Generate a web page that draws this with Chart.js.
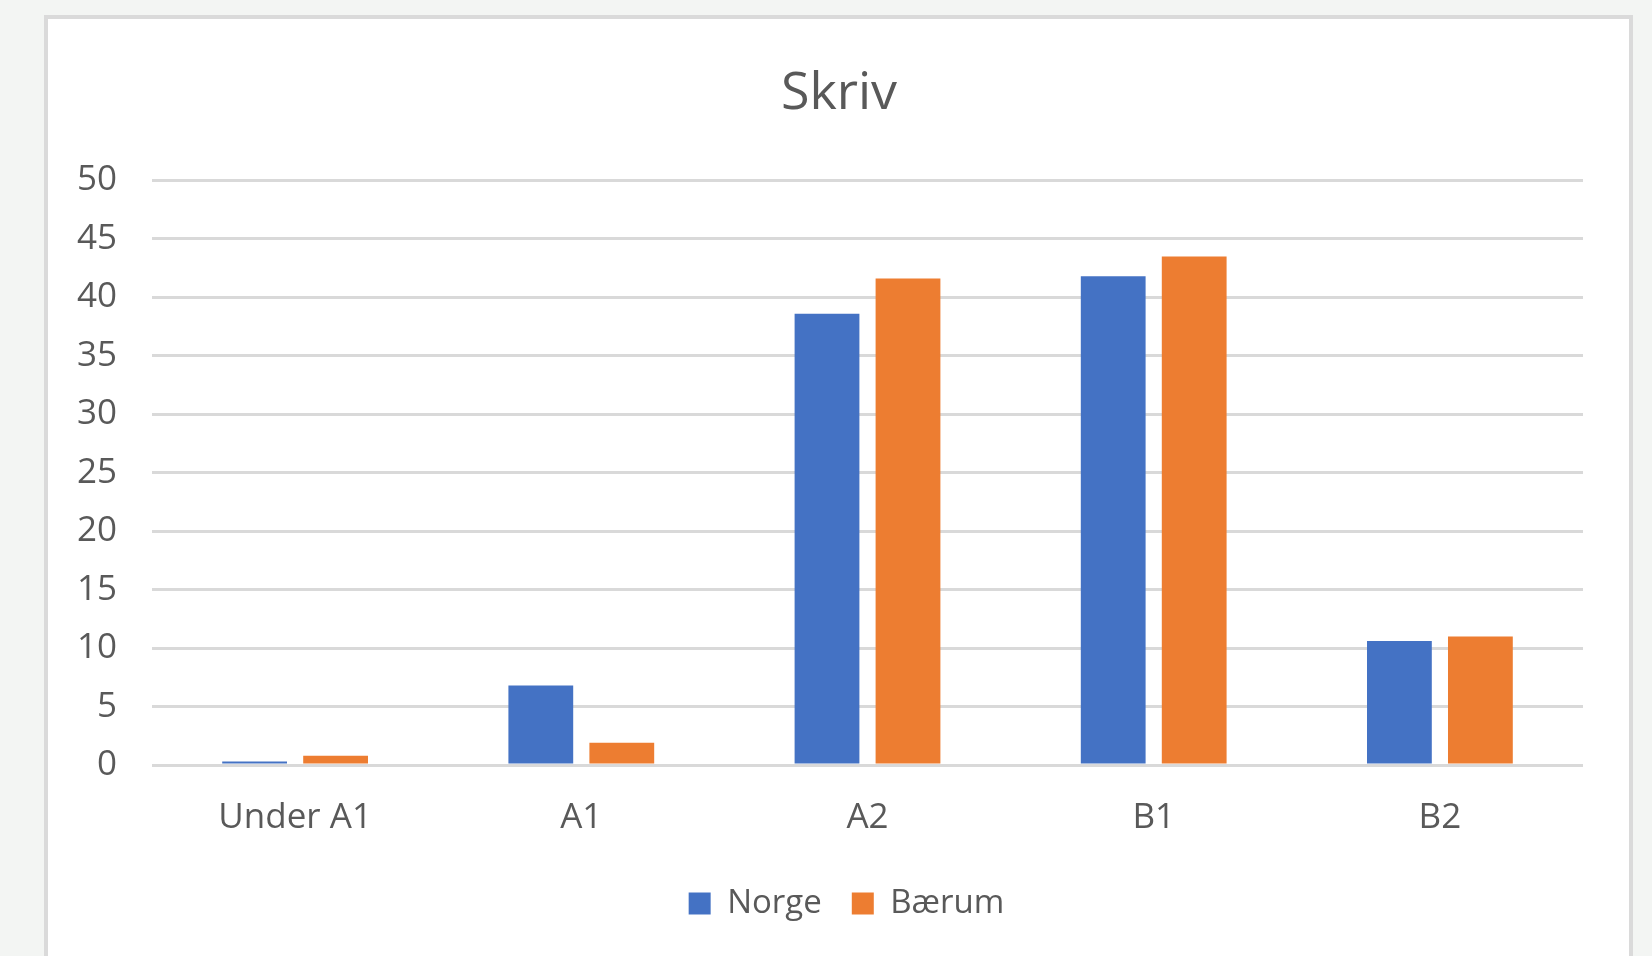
<html>
<head>
<script src="https://cdn.jsdelivr.net/npm/chart.js"></script>
<style>
  html, body { margin: 0; padding: 0; background: #f3f5f3; overflow: hidden; }
  #frame {
    position: absolute; left: 44px; top: 15px; width: 1581px; height: 960px;
    background: #ffffff; border: 4px solid #dadada; border-bottom: none;
  }
  #skrivChart { position: absolute; left: 0; top: 0; }
</style>
</head>
<body>
<div id="frame"></div>
<canvas id="skrivChart" width="1652" height="956"></canvas>

<script>

// levels on the x axis
const levels = ['Under A1', 'A1', 'A2', 'B1', 'B2'];

// per cent of pupils at each level
const norge  = [0.3, 6.8, 38.6, 41.8, 10.6];
const baerum = [0.8, 1.9, 41.6, 43.5, 11.0];

const yMax = 50;
const yStep = 5;

const textColor = '#595959';
const gridColor = '#d9d9d9';

Chart.defaults.font.family = '"Open Sans", "Noto Sans", sans-serif';
Chart.defaults.color = textColor;

// title and legend sit centred over the frame, not over the whole canvas
const centreShift = {
  id: 'centreShift',
  afterLayout(chart) {
    if (chart.titleBlock) chart.titleBlock.left += 95;
    if (chart.legend) chart.legend.left += 110;
  }
};

new Chart(document.getElementById('skrivChart'), {
  type: 'bar',
  data: {
    labels: levels,
    datasets: [
      { label: 'Norge',  data: norge,  backgroundColor: '#4472c4' },
      { label: 'Bærum', data: baerum, backgroundColor: '#ed7d31' }
    ]
  },
  options: {
    responsive: false,
    animation: false,
    categoryPercentage: 0.566,
    barPercentage: 0.8,
    layout: { padding: { top: 0, right: 69, bottom: 26, left: 0 } },
    plugins: {
      title: {
        display: true,
        text: 'Skriv',
        color: textColor,
        font: { size: 52, weight: 'normal' },
        padding: { top: 63, bottom: 55 }
      },
      legend: {
        position: 'bottom',
        labels: {
          boxWidth: 22,
          boxHeight: 22,
          padding: 30,
          color: textColor,
          font: { size: 33 }
        }
      },
      tooltip: { enabled: false }
    },
    scales: {
      x: {
        grid: { display: false },
        border: { display: false },
        ticks: { padding: 24, font: { size: 35 }, color: textColor },
        afterFit: (scale) => { scale.height -= 6; }
      },
      y: {
        min: 0,
        max: yMax,
        grid: { color: gridColor, lineWidth: 3, drawTicks: false },
        border: { display: false },
        ticks: { stepSize: yStep, padding: 35, font: { size: 35 }, color: textColor },
        afterFit: (scale) => { scale.width = 152; }
      }
    }
  },
  plugins: [centreShift]
});

</script>
</body>
</html>
